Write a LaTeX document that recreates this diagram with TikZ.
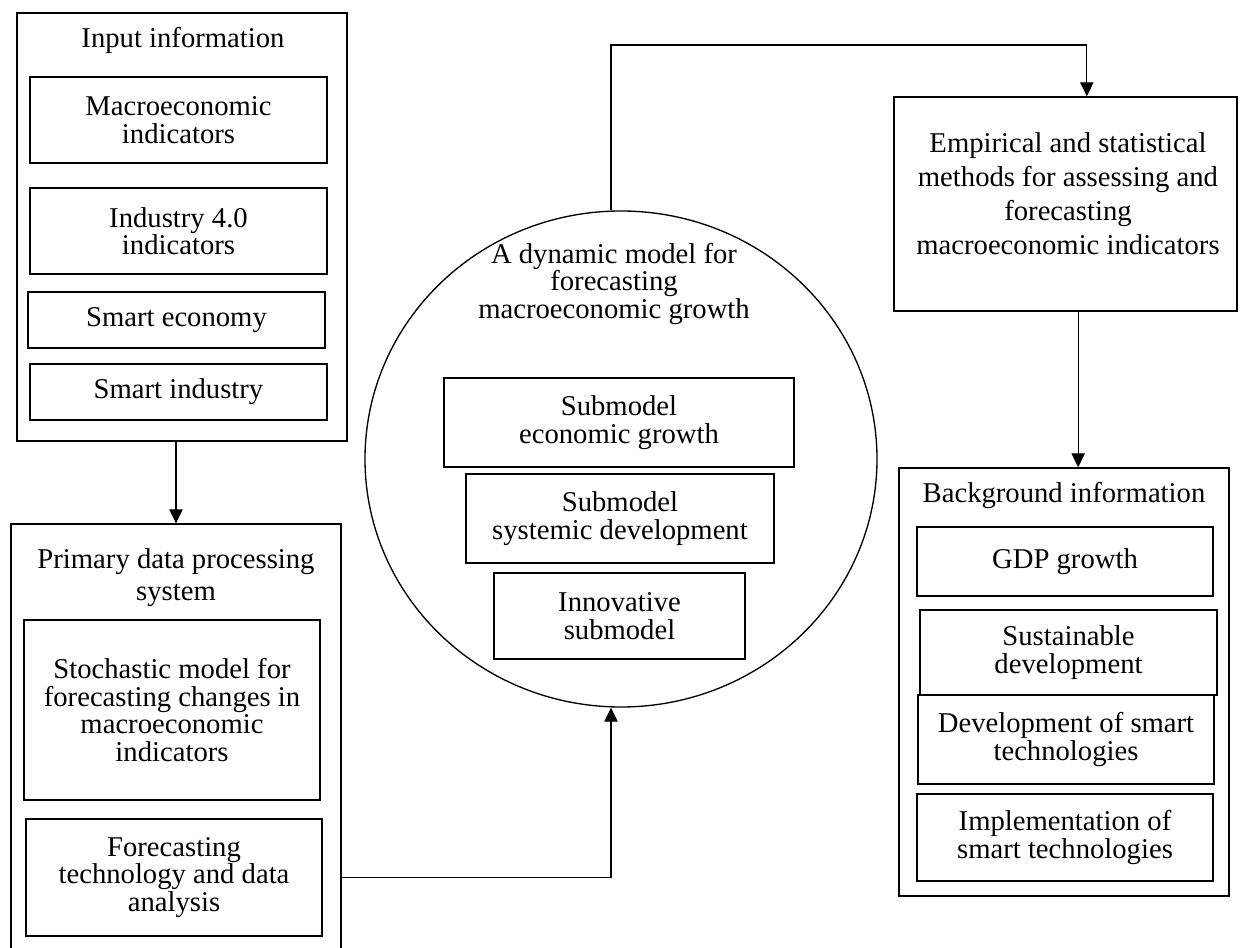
\documentclass[tikz,border=0pt]{standalone}
\usepackage{fontspec}
\setmainfont{Liberation Serif}
\usetikzlibrary{arrows.meta,shapes.geometric}
\begin{document}
\begin{tikzpicture}[x=0.75pt,y=-0.75pt,
  box/.style={draw, line width=1pt, inner sep=0pt, align=center, font=\fontsize{21.5}{20.6}\selectfont},
  txt/.style={align=center, inner sep=0pt, font=\fontsize{21.5}{20.6}\selectfont},
  arr/.style={line width=0.8pt, -{Triangle[length=10.5pt,width=10pt]}}]
\useasboundingbox (0,0) rectangle (1240,948);
\fill[white] (0,0) rectangle (1240,948);

% Input information
\node[box, minimum width=247.5pt, minimum height=321pt] (inp) at (182,227) {};
\node[txt] (inpt) at (183,40) {Input information};
\node[box, minimum width=222.75pt, minimum height=64.5pt] (macro) at (178.5,120) {Macroeconomic\\indicators};
\node[box, minimum width=222.75pt, minimum height=64.5pt] (ind) at (178.5,231) {Industry 4.0\\indicators};
\node[box, minimum width=222.75pt, minimum height=42pt] (seco) at (176.5,320) {Smart economy};
\node[box, minimum width=222.75pt, minimum height=42pt] (sind) at (178.5,392) {Smart industry};

% Primary data processing system
\node[box, minimum width=247.5pt, minimum height=328.5pt] (prim) at (176,743) {};
\node[txt, font=\fontsize{21.5}{24}\selectfont] (primt) at (176,578) {Primary data processing\\system};
\node[box, minimum width=222pt, minimum height=135pt] (stoch) at (172,710) {Stochastic model for\\forecasting changes in\\macroeconomic\\indicators};
\node[box, minimum width=222pt, minimum height=87.75pt] (fc) at (174,877.5) {Forecasting\\technology and data\\analysis};

% Dynamic model
\node[draw, ellipse, line width=1pt, minimum width=384pt, minimum height=372pt, inner sep=0pt] (circ) at (621,459) {};
\node[txt] (circt) at (614,284) {A dynamic model for\\forecasting\\macroeconomic growth};
\node[box, minimum width=262.5pt, minimum height=66.75pt] (sub1) at (619,422.5) {Submodel\\economic growth};
\node[box, minimum width=231pt, minimum height=66.75pt] (sub2) at (620,518.5) {Submodel\\systemic development};
\node[box, minimum width=188.25pt, minimum height=64.5pt] (sub3) at (619.5,616) {Innovative\\submodel};

% Empirical methods
\node[box, minimum width=257.25pt, minimum height=160.5pt] (emp) at (1065.5,204) {};
\node[txt, font=\fontsize{21.5}{25.5}\selectfont] (empt) at (1068,194) {Empirical and statistical\\methods for assessing and\\forecasting\\macroeconomic indicators};

% Background information
\node[box, minimum width=247.5pt, minimum height=321pt] (bg) at (1064,682) {};
\node[txt] (bgt) at (1064,496) {Background information};
\node[box, minimum width=222pt, minimum height=51.75pt] (gdp) at (1065,561.5) {GDP growth};
\node[box, minimum width=222.75pt, minimum height=63.75pt] (sust) at (1068.5,652.5) {Sustainable\\development};
\node[box, minimum width=222pt, minimum height=66.75pt] (dev) at (1066,739.5) {Development of smart\\technologies};
\node[box, minimum width=222pt, minimum height=65.25pt] (impl) at (1065,837.5) {Implementation of\\smart technologies};

% Connectors
\coordinate (topl) at (611,45);
\draw[arr] (prim.north |- inp.south) -- (prim.north);
\draw[arr] (fc.east -| prim.east) -| ([xshift=-7.5pt]circ.south);
\draw[arr] ([xshift=-7.5pt]circ.north) -- (topl) -| ([xshift=16pt]emp.north);
\draw[arr] ([xshift=9.5pt]emp.south) -- ([xshift=9.5pt]emp.south |- bg.north);
\end{tikzpicture}
\end{document}
